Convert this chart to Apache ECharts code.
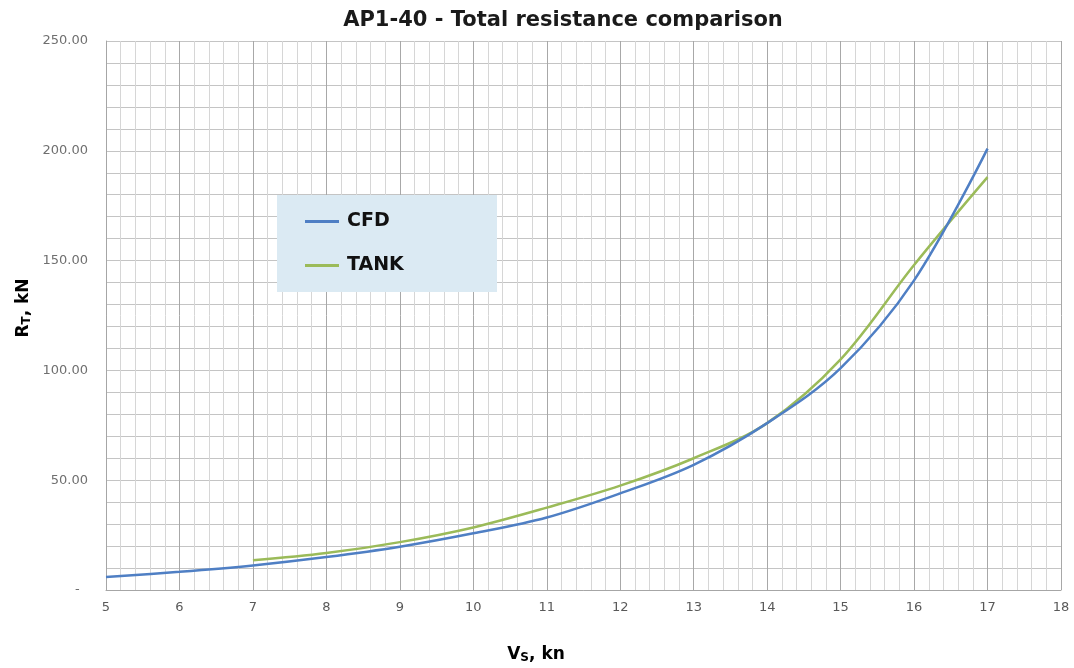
<!DOCTYPE html>
<html>
<head>
<meta charset="utf-8">
<title>AP1-40 - Total resistance comparison</title>
<script src="https://cdn.jsdelivr.net/npm/echarts@6/dist/echarts.min.js"></script>
<style>
  html, body { margin: 0; padding: 0; background: #ffffff; }
  #chart { width: 1074px; height: 668px; }
</style>
</head>
<body>
<div id="chart"></div>
<script>
// Ship speed (kn) and total resistance (kN)
const cfdSpeed = [5, 6, 7, 8, 9, 10, 11, 12, 13, 14, 15, 16, 17];
const cfdResistance = [5.9, 8.3, 11.2, 15.0, 19.7, 25.8, 33.0, 44.0, 57.0, 76.0, 101.0, 141.0, 201.0];
const tankSpeed = [7, 8, 9, 10, 11, 12, 13, 14, 15, 16, 17];
const tankResistance = [13.5, 16.8, 21.8, 28.5, 37.5, 47.5, 60.0, 76.0, 105.0, 148.0, 188.0];
const seriesNames = ['CFD', 'TANK'];

const pairs = (xs, ys) => xs.map((x, i) => [x, ys[i]]);

const chart = echarts.init(document.getElementById('chart'));
const gridGrey = '#c4c4c4';
const nameRich = {
  a: { fontFamily: 'DejaVu Sans', fontWeight: 'bold', fontSize: 17, color: '#1a1a1a', lineHeight: 21, verticalAlign: 'bottom' },
  s: { fontFamily: 'DejaVu Sans', fontWeight: 'bold', fontSize: 12, color: '#1a1a1a', lineHeight: 17, verticalAlign: 'bottom' }
};

chart.setOption({
  animation: false,
  backgroundColor: '#ffffff',
  title: {
    text: 'AP1-40 - Total resistance comparison',
    left: 558,
    top: 5,
    textAlign: 'center',
    textStyle: { fontFamily: 'DejaVu Sans', fontWeight: 'bold', fontSize: 21, color: '#1a1a1a' }
  },
  grid: { left: 106, right: 13, top: 41, bottom: 78 },
  legend: {
    orient: 'vertical',
    left: 300,
    top: 207,
    itemGap: 25,
    itemWidth: 34,
    itemHeight: 3,
    icon: 'rect',
    data: seriesNames,
    textStyle: { fontFamily: 'DejaVu Sans', fontWeight: 'bold', fontSize: 19, color: '#111111', padding: [0, 0, 0, 3] },
    z: 5
  },
  graphic: [
    {
      type: 'rect',
      z: 4,
      shape: { x: 277, y: 195, width: 220, height: 97 },
      style: { fill: '#dbeaf3' }
    },
    {
      type: 'text',
      z: 5,
      x: 536,
      y: 653,
      style: {
        text: '{a|V}{s|S}{a|, kn}',
        textAlign: 'center',
        textVerticalAlign: 'middle',
        rich: nameRich
      }
    },
    {
      type: 'text',
      z: 5,
      x: 22,
      y: 308,
      rotation: Math.PI / 2,
      style: {
        text: '{a|R}{s|T}{a|, kN}',
        textAlign: 'center',
        textVerticalAlign: 'middle',
        rich: nameRich
      }
    }
  ],
  xAxis: {
    type: 'value',
    min: 5,
    max: 18,
    interval: 1,
    axisLine: { show: true, lineStyle: { color: '#a6a6a6', width: 1 } },
    axisTick: { show: false },
    axisLabel: { margin: 11, fontFamily: 'DejaVu Sans', fontSize: 13, color: '#595959' },
    splitLine: { show: true, lineStyle: { color: '#a8a8a8', width: 1 } },
    minorTick: { show: false, splitNumber: 5 },
    minorSplitLine: { show: true, lineStyle: { color: '#d6d6d6', width: 1 } }
  },
  yAxis: {
    type: 'value',
    min: 0,
    max: 250,
    interval: 50,
    axisLine: { show: true, lineStyle: { color: '#a6a6a6', width: 1 } },
    axisTick: { show: false },
    axisLabel: {
      margin: 18,
      fontFamily: 'DejaVu Sans',
      fontSize: 13,
      color: '#6f6f6f',
      formatter: v => (v === 0 ? '-  ' : v.toFixed(2))
    },
    splitLine: { show: true, lineStyle: { color: gridGrey, width: 1 } },
    minorTick: { show: false, splitNumber: 5 },
    minorSplitLine: { show: true, lineStyle: { color: gridGrey, width: 1 } }
  },
  series: [
    {
      name: seriesNames[0],
      type: 'line',
      data: pairs(cfdSpeed, cfdResistance),
      smooth: 0.35,
      showSymbol: false,
      symbol: 'none',
      color: '#4f7fc4',
      lineStyle: { width: 2.5, color: '#4f7fc4' },
      z: 3
    },
    {
      name: seriesNames[1],
      type: 'line',
      data: pairs(tankSpeed, tankResistance),
      smooth: 0.35,
      showSymbol: false,
      symbol: 'none',
      color: '#9bbb59',
      lineStyle: { width: 2.5, color: '#9bbb59' },
      z: 2
    }
  ]
});
</script>
</body>
</html>
